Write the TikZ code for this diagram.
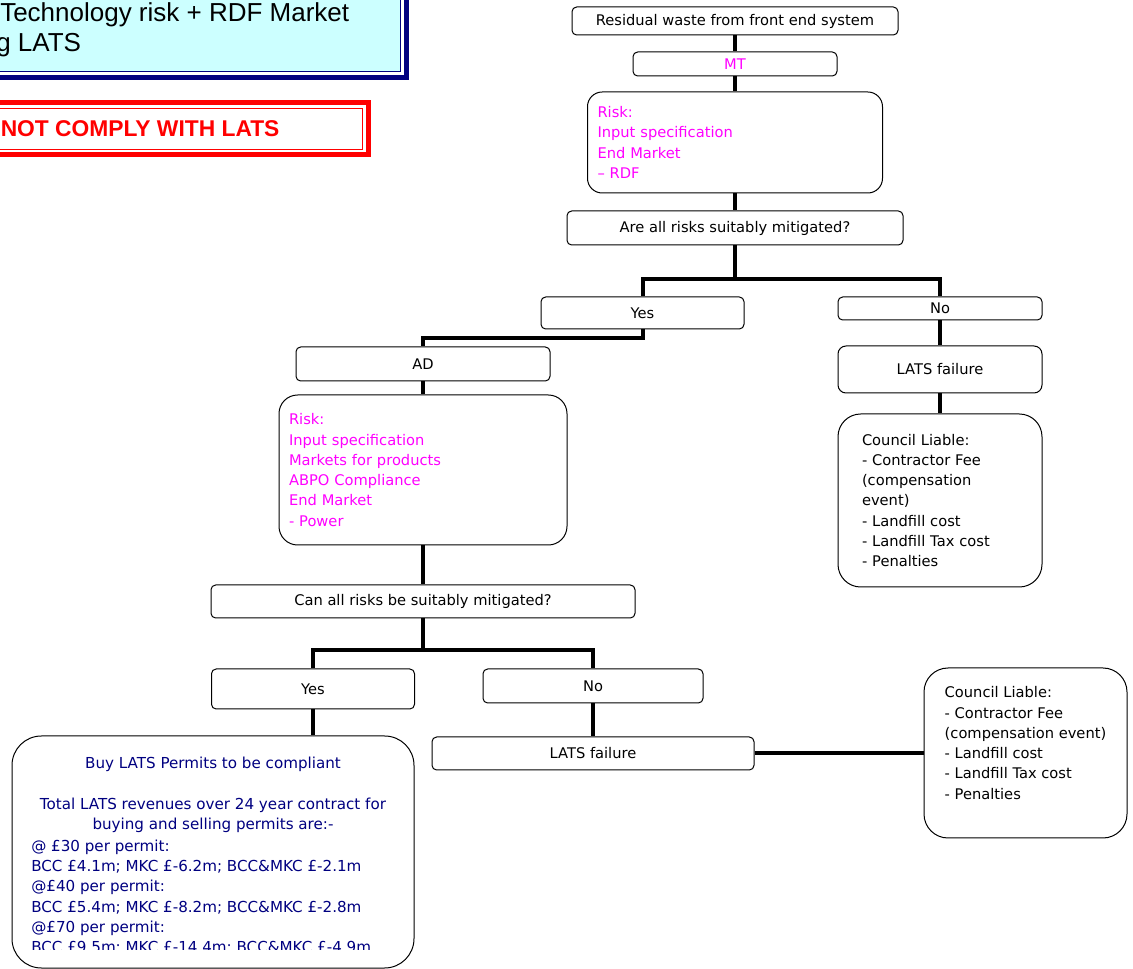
\documentclass[tikz,border=0pt]{standalone}
\usepackage{xcolor}
\usepackage{fontspec}
\usepackage{tikz}
\setmainfont{DejaVu Sans}
\newfontfamily\arialfont{Liberation Sans}
\definecolor{riskpink}{RGB}{255,0,255}
\definecolor{permitblue}{RGB}{0,0,128}
\definecolor{panelcyan}{RGB}{204,255,255}
\definecolor{panelnavy}{RGB}{0,0,128}
\definecolor{alertred}{RGB}{255,0,0}

\begin{document}
\begin{tikzpicture}[x=0.75pt,y=-0.75pt,
    every node/.style={inner sep=0pt,font=\fontsize{11}{15.2}\selectfont},
    box/.style 2 args={draw,rounded corners=3.5pt,line width=0.75pt,minimum width=#1*0.75pt,minimum height=#2*0.75pt},
    risktext/.style={text=riskpink,align=left,text width=#1*0.75pt},
    permit/.style={text=permitblue,font=\fontsize{11.35}{15.2}\selectfont},
    link/.style={line width=3pt}]
  \useasboundingbox (0,0) rectangle (1133,969);
  \clip (0,0) rectangle (1133,969);

  \draw[panelnavy,line width=4.2pt,fill=white] (-20,-20) rectangle (406.5,77.5);
  \draw[panelnavy,line width=0.75pt,fill=panelcyan] (-20,-20) rectangle (400,72);
  \node[font=\arialfont\fontsize{19.5}{22.5}\selectfont,anchor=base west] (techA) at (0,21.5) {Technology risk + RDF Market};
  \node[font=\arialfont\fontsize{19.5}{22.5}\selectfont,anchor=base west] (techB) at (-4,51.5) {g LATS};
  \draw[alertred,line width=3.75pt,fill=white] (-20,102.5) rectangle (368,154.2);
  \draw[alertred,line width=0.75pt] (-20,108.3) rectangle (362.5,149.3);
  \node[font=\arialfont\bfseries\fontsize{17.1}{20}\selectfont,text=alertred,anchor=base west] (comply) at (0.5,136.5) {NOT COMPLY WITH LATS};

  \node[box={326}{28}] (res) at (735,21) {Residual waste from front end system};
  \node[box={204}{24},text=riskpink] (mt) at (735,64) {MT};
  \node[box={295}{101},rounded corners=11pt,risktext=275] (risk1) at (735,142.5) {Risk:\\Input specification\\End Market\\– RDF};
  \node[box={336}{34}] (q1) at (735,228) {Are all risks suitably mitigated?};
  \node[box={203}{32}] (yes1) at (642.5,313) {Yes};
  \node[box={204}{23}] (no1) at (940,308.5) {No};
  \node[box={254}{34}] (ad) at (423,364) {AD};
  \node[box={288}{150},rounded corners=14pt,risktext=268] (risk2) at (423,470) {Risk:\\Input specification\\Markets for products\\ABPO Compliance\\End Market\\- Power};
  \node[box={424}{33}] (q2) at (423,601.5) {Can all risks be suitably mitigated?};
  \node[box={203}{40}] (yes2) at (313,689) {Yes};
  \node[box={220}{34}] (no2) at (593,686) {No};
  \node[box={322}{33}] (fail2) at (593,753.5) {LATS failure};
  \node[box={204}{47},rounded corners=6pt] (fail1) at (940,369.5) {LATS failure};
  \node[box={204}{173},rounded corners=17pt,align=left,text width=117pt] (liab1) at (940,500.5) {Council Liable:\\- Contractor Fee\\(compensation\\event)\\- Landfill cost\\- Landfill Tax cost\\- Penalties};
  \node[box={203}{170},rounded corners=18pt,align=left] (liab2) at (1025.5,753) {Council Liable:\\- Contractor Fee\\(compensation event)\\- Landfill cost\\- Landfill Tax cost\\- Penalties\\\mbox{}};
  \node[box={402}{232},rounded corners=22pt] (buy) at (213,852) {};
  \begin{scope}
    \clip (12,736) rectangle (414,949);
    \node[permit,align=center,anchor=north] (buyhead) at (213,757) {Buy LATS Permits to be compliant\\[15.2pt]Total LATS revenues over 24 year contract for\\buying and selling permits are:-};
    \node[permit,align=left,anchor=north west] (buylist) at (31,839.5) {@ £30 per permit:\\BCC £4.1m; MKC £-6.2m; BCC\&MKC £-2.1m\\@£40 per permit:\\BCC £5.4m; MKC £-8.2m; BCC\&MKC £-2.8m\\@£70 per permit:\\BCC £9.5m; MKC £-14.4m; BCC\&MKC £-4.9m};
  \end{scope}

  \coordinate (q1j) at (735,279);
  \coordinate (yesj) at (423,338);
  \coordinate (q2j) at (423,650);
  \draw[link] (res) -- (mt);
  \draw[link] (mt) -- (risk1);
  \draw[link] (risk1) -- (q1);
  \draw[link] (q1) -- (q1j);
  \draw[link] (yes1) |- (q1j) -| (no1);
  \draw[link] (yes1) |- (yesj) -- (ad);
  \draw[link] (no1) -- (fail1);
  \draw[link] (fail1) -- (liab1);
  \draw[link] (ad) -- (risk2);
  \draw[link] (risk2) -- (q2);
  \draw[link] (q2) -- (q2j);
  \draw[link] (yes2) |- (q2j) -| (no2);
  \draw[link] (yes2) -- (yes2 |- buy.north);
  \draw[link] (no2) -- (fail2);
  \draw[link] (fail2) -- (fail2 -| liab2.west);
\end{tikzpicture}
\end{document}
